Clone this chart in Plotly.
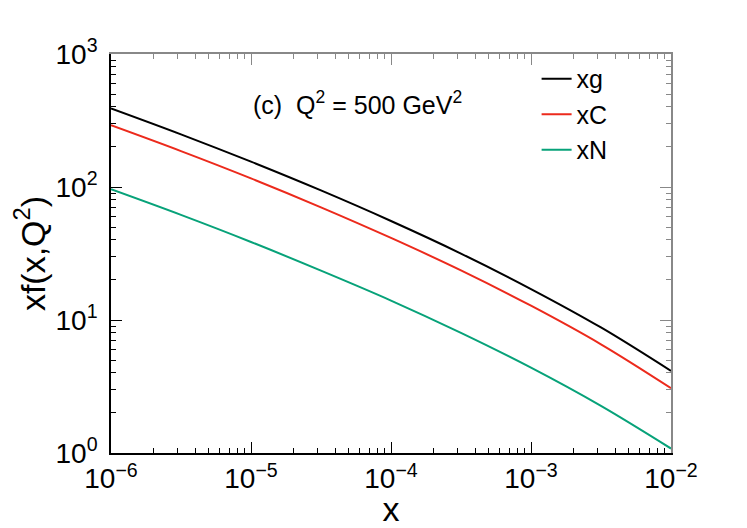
import plotly.graph_objects as go

# x grid and parton densities (Q^2 = 500 GeV^2)
x_vals = [1e-6, 3.16e-6, 1e-5, 3.16e-5, 1e-4, 3.16e-4, 1e-3, 3.16e-3, 1e-2]
xg = [390, 249, 155, 94.2, 55.5, 31.6, 17.1, 8.79, 4.14]
xC = [291, 186, 116, 70.3, 41.4, 23.6, 12.8, 6.56, 3.07]
xN = [96.2, 61.7, 38.6, 23.5, 14.0, 8.0, 4.38, 2.26, 1.08]

series = [("xg", xg, "#000000"), ("xC", xC, "#ec2a1c"), ("xN", xN, "#07a279")]

x_ticks = [1e-6, 1e-5, 1e-4, 1e-3, 1e-2]
x_ticktext = ["10<sup>\u22126</sup>", "10<sup>\u22125</sup>", "10<sup>\u22124</sup>",
              "10<sup>\u22123</sup>", "10<sup>\u22122</sup>"]
y_ticks = [1, 10, 100, 1000]
y_ticktext = ["10<sup>0</sup>", "10<sup>1</sup>", "10<sup>2</sup>", "10<sup>3</sup>"]

x_minor = [m * 10 ** e for e in range(-6, -2) for m in range(2, 10)]
y_minor = [m * 10 ** e for e in range(0, 3) for m in range(2, 10)]

FONT = "Liberation Sans, Arial, sans-serif"

fig = go.Figure()
for name, ys, col in series:
    fig.add_trace(go.Scatter(x=x_vals, y=ys, mode="lines", name=name,
                             line=dict(color=col, width=2, shape="spline")))

# empty trace so the grey top/right frame axes get drawn
fig.add_trace(go.Scatter(x=[1e-6], y=[1], xaxis="x2", yaxis="y2", mode="lines",
                         showlegend=False, hoverinfo="skip"))

axis_common = dict(type="log", ticks="inside", ticklen=11, tickwidth=1.2,
                   showgrid=False, zeroline=False, showline=True, linewidth=1.6,
                   automargin=False)

# the page body adds an 8px offset, so the figure is 8px smaller than the window
fig.update_layout(
    width=739, height=520,
    margin=dict(l=103, r=76, t=46, b=75),
    plot_bgcolor="white", paper_bgcolor="white",
    font=dict(family=FONT, size=28, color="black"),
    showlegend=True,
    legend=dict(x=0.76, y=0.995, xanchor="left", yanchor="top",
                bgcolor="rgba(0,0,0,0)", font=dict(size=25), tracegroupgap=0),
    xaxis=dict(axis_common, range=[-6, -2], linecolor="black", tickcolor="black",
               tickvals=x_ticks, ticktext=x_ticktext,
               minor=dict(tickvals=x_minor, ticks="inside", ticklen=5, tickcolor="black"),
               title=dict(text="x", standoff=12)),
    yaxis=dict(axis_common, range=[0, 3], linecolor="black", tickcolor="black",
               tickvals=y_ticks, ticktext=y_ticktext, ticklabelstandoff=6,
               minor=dict(tickvals=y_minor, ticks="inside", ticklen=5, tickcolor="black"),
               title=dict(text="xf(x,Q<sup>2</sup>)", standoff=0)),
    xaxis2=dict(axis_common, range=[-6, -2], overlaying="x", side="top",
                linecolor="#888888", tickcolor="#888888",
                tickvals=x_ticks, showticklabels=False,
                minor=dict(tickvals=x_minor, ticks="inside", ticklen=5, tickcolor="#888888")),
    yaxis2=dict(axis_common, range=[0, 3], overlaying="y", side="right",
                linecolor="#888888", tickcolor="#888888",
                tickvals=y_ticks, showticklabels=False,
                minor=dict(tickvals=y_minor, ticks="inside", ticklen=5, tickcolor="#888888")),
    annotations=[dict(text="(c)  Q<sup>2</sup> = 500 GeV<sup>2</sup>", xref="paper", yref="paper",
                      x=0.25, y=0.877, xanchor="left", yanchor="middle", showarrow=False,
                      font=dict(size=25))],
)

fig.write_html("out.html")
